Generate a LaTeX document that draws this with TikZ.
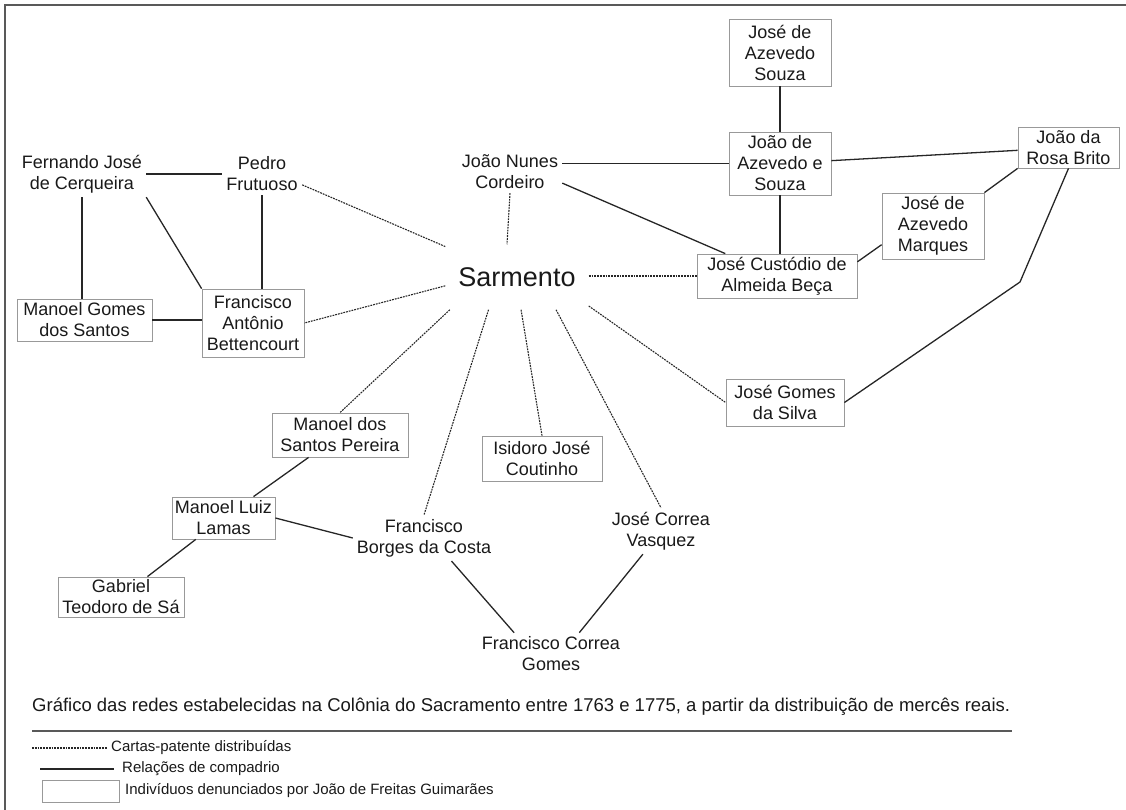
\documentclass[tikz,border=0pt]{standalone}
\usepackage{fontspec}
\setmainfont{Liberation Sans}
\usetikzlibrary{arrows,positioning}

\begin{document}
\begin{tikzpicture}[x=1pt,y=-1pt,
    person/.style={align=center, text=black!90, inner sep=4pt, font=\fontsize{18}{21}\selectfont},
    denounced/.style={person, draw=black!40, line width=0.8pt, inner xsep=3pt, inner ysep=2pt},
    compadrio/.style={draw=black!85, line width=1.3pt},
    cartas/.style={draw=black!85, line width=1.1pt, dash pattern=on 1.8pt off 1pt},
    legendtext/.style={anchor=west, text=black!90, inner xsep=4pt, font=\fontsize{15}{18}\selectfont}]
  \tikzstyle{frame}=[draw=black!65, line width=2.2pt]

  \useasboundingbox (0,0) rectangle (1126,810);
  \draw[frame] (1126,5) -- (5,5) -- (5,810);

  \node[person] (fjc) at (82,174) {Fernando José\\de Cerqueira};
  \node[person] (pf) at (262,174) {Pedro\\Frutuoso};
  \node[denounced, minimum width=135pt, minimum height=42pt] (mgs) at (84.5,320) {Manoel Gomes\\dos Santos};
  \node[denounced, minimum width=102pt, minimum height=68pt] (fab) at (253,323) {Francisco\\Antônio\\Bettencourt};
  \node[person] (jnc) at (510,172) {João Nunes\\Cordeiro};
  \node[person, font=\fontsize{27}{32}\selectfont, inner xsep=13pt, inner ysep=23pt] (sarm) at (517,277) {Sarmento};
  \node[denounced, minimum width=102pt, minimum height=67pt] (jas) at (780,52.5) {José de\\Azevedo\\Souza};
  \node[denounced, minimum width=102pt, minimum height=63pt] (jaes) at (780,163.5) {João de\\Azevedo e\\Souza};
  \node[denounced, minimum width=101pt, minimum height=41pt] (jrb) at (1068.5,147.5) {João da\\Rosa Brito};
  \node[denounced, minimum width=102pt, minimum height=66pt] (jam) at (933,226) {José de\\Azevedo\\Marques};
  \node[denounced, minimum width=160pt, minimum height=44pt] (jcab) at (777,276) {José Custódio de\\Almeida Beça};
  \node[denounced, minimum width=118pt, minimum height=47pt] (jgs) at (785,402.5) {José Gomes\\da Silva};
  \node[denounced, minimum width=136pt, minimum height=44pt] (msp) at (340,435) {Manoel dos\\Santos Pereira};
  \node[denounced, minimum width=120pt, minimum height=45pt] (ijc) at (542,458.5) {Isidoro José\\Coutinho};
  \node[denounced, minimum width=103pt, minimum height=42pt] (mll) at (223.5,518) {Manoel Luiz\\Lamas};
  \node[denounced, minimum width=126pt, minimum height=40pt] (gts) at (121,597) {Gabriel\\Teodoro de Sá};
  \node[person] (fbc) at (424,538) {Francisco\\Borges da Costa};
  \node[person] (jcv) at (661,531) {José Correa\\Vasquez};
  \node[person] (fcg) at (551,654) {Francisco Correa\\Gomes};
  \coordinate (brito bend) at (1020,282);

  \draw[compadrio] (fjc.east) -- (pf.west);
  \draw[compadrio] (fjc.south) -- (fjc.south |- mgs.north);
  \draw[compadrio] (fjc.south east) -- (fab.north west);
  \draw[compadrio] (pf.south) -- (pf.south |- fab.north);
  \draw[compadrio] (mgs.east) -- (mgs.east -| fab.west);
  \draw[compadrio] (jas) -- (jaes);
  \draw[compadrio] (jnc.east |- jaes.west) -- (jaes.west);
  \draw[compadrio] (jnc.-12) -- (jcab);
  \draw[compadrio] (jaes.south) -- (jaes.south |- jcab.north);
  \draw[compadrio] (jaes) -- (jrb);
  \draw[compadrio] (jrb.south west) -- (jam.north east);
  \draw[compadrio] (jam.-160) -- (jcab.10);
  \draw[compadrio] (jrb.south) -- (brito bend) -- (jgs.east);
  \draw[compadrio] (msp) -- (mll);
  \draw[compadrio] (mll.east) -- (fbc.west);
  \draw[compadrio] (mll) -- (gts);
  \draw[compadrio] (fbc.-40) -- (fcg.150);
  \draw[compadrio] (jcv.-128) -- (fcg.37);

  \draw[cartas] (sarm.157) -- (pf.-15);
  \draw[cartas] (sarm.-173) -- (fab.east);
  \draw[cartas] (sarm.-154) -- (msp.north);
  \draw[cartas] (sarm.-131) -- (fbc.north);
  \draw[cartas] (sarm.-83) -- (ijc.north);
  \draw[cartas] (sarm.-40) -- (jcv.north);
  \draw[cartas] (sarm.-22) -- (jgs.west);
  \draw[cartas] (jcab.west -| sarm.east) -- (jcab.west);
  \draw[cartas] (jnc.south) -- (sarm.107);

  \node[anchor=west, inner sep=0pt, text=black!90, font=\fontsize{18.5}{22}\selectfont] (caption) at (32,707)
    {Gráfico das redes estabelecidas na Colônia do Sacramento entre 1763 e 1775, a partir da distribuição de mercês reais.};
  \draw[frame] (32,731) -- (1012,731);

  \node[legendtext] (lgcartas) at (107,748) {Cartas-patente distribuídas};
  \coordinate (lgcartas start) at (32,748);
  \draw[cartas] (lgcartas start) -- (lgcartas.west);
  \node[legendtext] (lgcompadrio) at (118,769) {Relações de compadrio};
  \coordinate (lgcompadrio start) at (40,769);
  \draw[compadrio, shorten >=4pt] (lgcompadrio start) -- (lgcompadrio.west);
  \node[denounced, minimum width=77pt, minimum height=22pt] (lgbox) at (80.5,791) {};
  \node[legendtext] (lgdenounced) at (121,791) {Indivíduos denunciados por João de Freitas Guimarães};
\end{tikzpicture}
\end{document}
